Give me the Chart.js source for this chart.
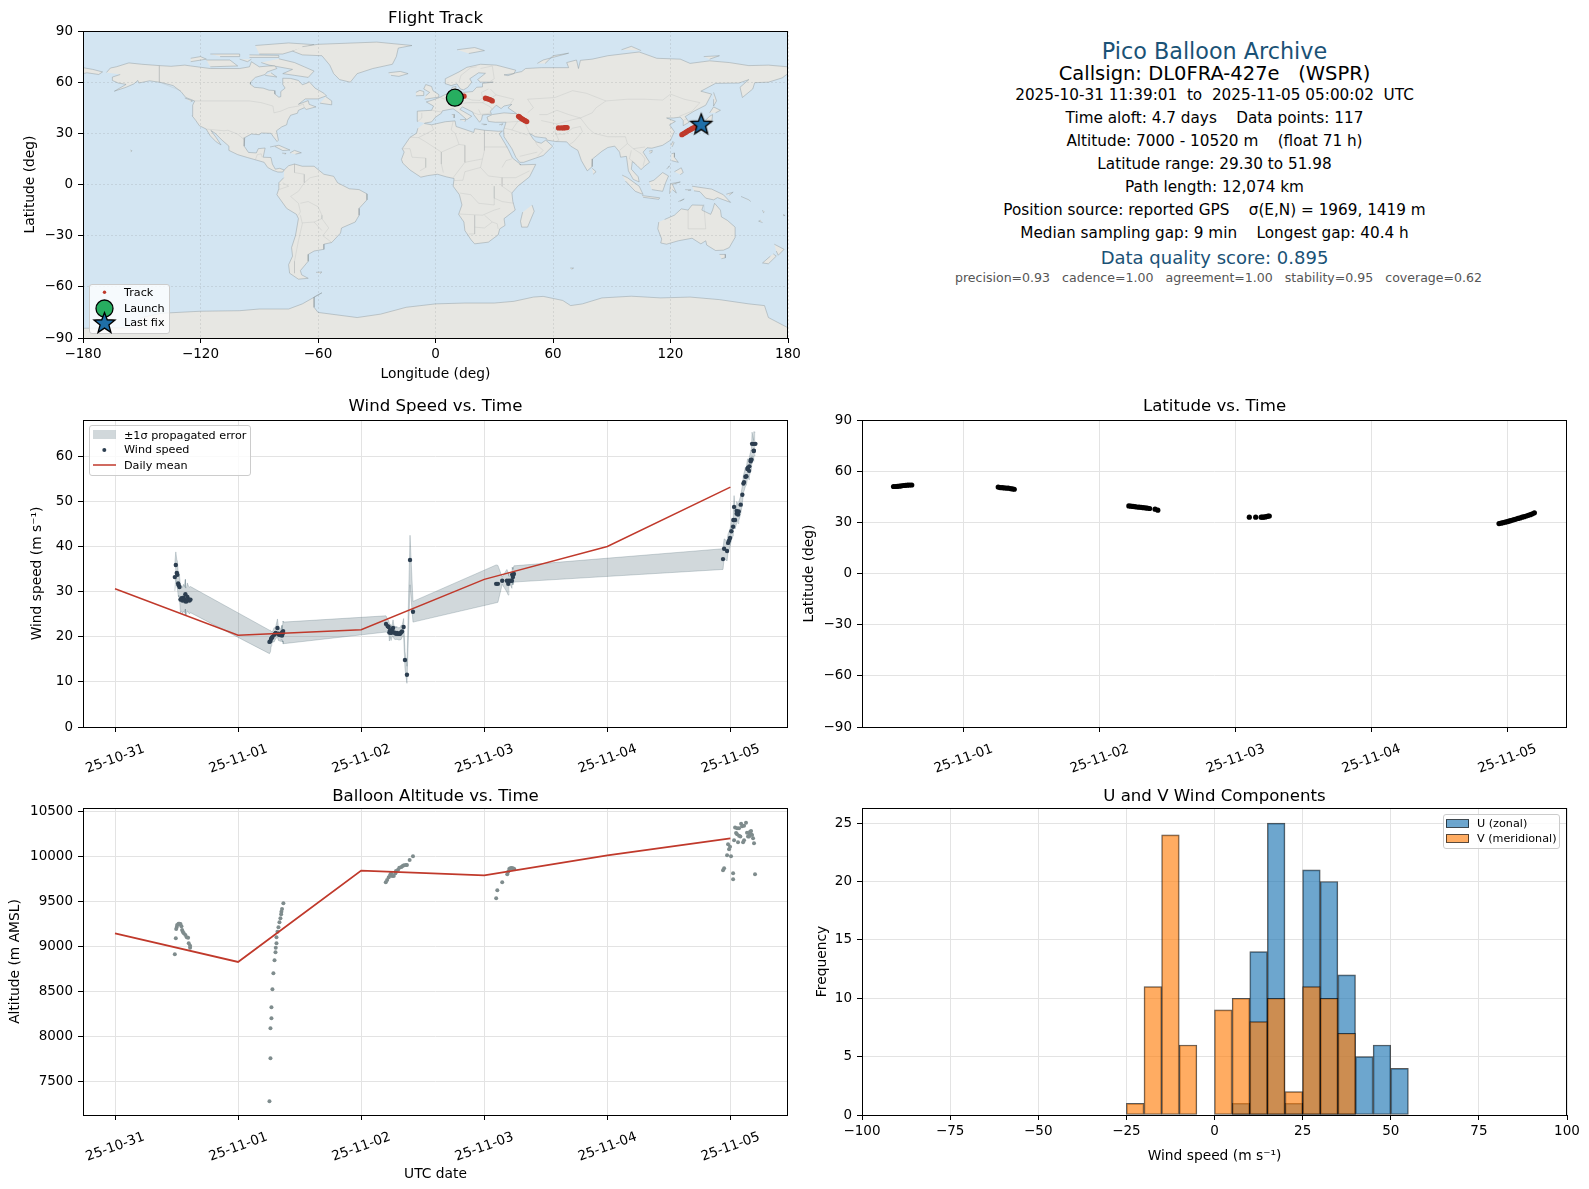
<!DOCTYPE html>
<html><head><meta charset="utf-8">
<style>
html,body{margin:0;padding:0;background:#fff;width:1589px;height:1189px;overflow:hidden;font-family:"DejaVu Sans",sans-serif}
canvas{position:absolute}
.t{position:absolute;left:1214.5px;transform:translate(-50%,-50%);white-space:pre;color:#000;line-height:1}
</style>
<script src="https://cdn.jsdelivr.net/npm/chart.js@4/dist/chart.umd.min.js"></script>
</head><body>
<script>
/* ---------- tick labels ---------- */
const dateLabels = {0:'25-10-31',1:'25-11-01',2:'25-11-02',3:'25-11-03',4:'25-11-04',5:'25-11-05'};
const dailyDays = [0,1,2,3,4,5];
const altTicks = [7500,8000,8500,9000,9500,10000,10500];

/* ---------- wind speed ---------- */
const windTimes = [.486,.494,.502,.507,.513,.518,.524,.532,.540,.548,.556,.564,.572,.572,.580,.588,.596,.605,.613,
1.255,1.263,1.269,1.274,1.279,1.293,1.301,1.306,1.320,1.328,1.333,1.344,1.349,1.357,1.357,1.366,1.366,
2.202,2.216,2.224,2.229,2.235,2.243,2.251,2.259,2.267,2.275,2.283,2.291,2.299,2.308,2.316,2.324,2.332,2.345,2.356,2.372,2.397,2.421,
3.097,3.111,3.146,3.184,3.195,3.200,3.214,3.225,3.227,3.233,3.241,
4.940,4.949,4.973,4.981,4.989,4.997,5.008,5.022,5.024,5.030,5.038,5.051,5.051,5.059,5.062,5.068,5.084,5.097,5.106,5.111,5.122,5.130,5.138,5.143,5.152,5.154,5.165,5.165,5.171,5.176,5.190,5.190,5.190,5.203];
const windSpeed = [33.3,36,34.2,33.8,31.9,31.5,31.1,28.3,28.6,28.1,28.7,28.3,29.5,27.9,27.9,28.9,28.4,28.1,28.3,
18.9,19.1,19.6,19.8,20,20.5,20.7,20.9,22,20.7,20.5,20.4,20.7,21,20.3,21.3,20.9,
22.9,22.4,22.2,21,21.5,20.9,21.3,22,21,20.9,20.7,20.9,20.7,20.7,20.7,21,21.2,22.2,14.9,11.6,37.1,25.6,
31.8,31.8,32.5,32.5,31.8,32.5,32.5,32.5,33.9,33.3,34,
37.3,39.6,39.1,40.9,41.4,42,43.5,44.5,46,48.9,46,47.4,48,47.6,47.2,47.9,49.4,51.6,54.1,54.4,55.6,55.7,57.3,57.6,56.9,57.9,59,59.3,59.4,62.9,61.3,61.4,62.9,62.9];
const windSigma = [3.1,2.9,3,3,2.6,2.6,2.6,2.9,2.8,2.9,3,2.9,3.3,3,3,3.1,2.9,3,2.9,
2.6,2.4,1.6,1.3,1.1,1.6,1.2,1.4,2,1.5,1.3,1.4,1.2,1.6,1.4,2.2,2.4,
1.8,1.5,1.4,1.9,1.4,1.7,1.3,1.8,1.4,1.5,1.3,1.4,1.3,1.4,1.3,1.6,1.3,1.9,1.9,1.9,5.5,2.3,
4.2,4.1,.8,2.5,2.5,1,1,1.7,1.6,1.7,1.8,
2.3,2.2,2.2,2,2,2,1.9,2,2,2.5,2,2.1,2.1,2,2,2.1,2,2,1.9,2,2.1,2,2.1,2,2,2.1,2.2,2.2,2.2,2.6,2.3,2.3,2.7,2.6];
const windDaily = [30.7,20.4,21.6,32.8,40.1,53.3];

/* ---------- altitude ---------- */
const altTimes = [.486,.494,.497,.502,.505,.516,.524,.532,.540,.545,.551,.559,.572,.583,.594,.599,.610,.610,
1.255,1.263,1.263,1.271,1.271,1.279,1.287,1.296,1.304,1.306,1.312,1.312,1.320,1.328,1.336,1.344,1.350,1.352,1.357,1.368,
2.200,2.211,2.224,2.235,2.243,2.251,2.265,2.278,2.283,2.300,2.310,2.327,2.337,2.348,2.364,2.372,2.394,2.421,
3.097,3.106,3.146,3.187,3.195,3.203,3.211,3.222,3.233,3.244,
4.940,4.949,4.973,4.981,4.989,4.997,5.005,5.022,5.022,5.030,5.038,5.046,5.054,5.054,5.062,5.070,5.070,5.081,5.087,5.095,5.103,5.111,5.111,5.127,5.135,5.143,5.152,5.152,5.160,5.168,5.168,5.176,5.184,5.192,5.200];
const altValues = [8911,9089,9193,9215,9237,9252,9252,9248,9222,9181,9163,9144,9126,9100,9096,9033,9007,8985,
7278,7756,8089,8200,8322,8522,8700,8844,8933,8985,9033,9100,9163,9211,9267,9311,9356,9385,9415,9478,
9711,9737,9767,9793,9811,9781,9781,9811,9837,9852,9874,9881,9893,9900,9904,9904,9959,10000,
9533,9622,9711,9800,9830,9859,9867,9870,9867,9859,
9844,9867,10011,10133,10078,10107,10000,9744,9811,10178,10319,10259,10311,10244,10156,10311,10230,10219,10363,10333,10156,10178,10341,10374,10263,10219,10256,10219,10274,10281,10244,10237,10200,10144,9800];
const altDaily = [9144,8826,9841,9789,10011,10200];

/* ---------- latitude ---------- */
const latTimes = [.486,.50,.515,.53,.545,.56,.575,.59,.605,.62,
1.256,1.27,1.285,1.30,1.315,1.33,1.345,1.36,1.374,
2.217,2.232,2.247,2.262,2.277,2.292,2.307,2.322,2.337,2.352,2.37,2.41,2.43,
3.103,3.15,3.19,3.20,3.21,3.22,3.23,3.24,3.25,
4.94,4.955,4.97,4.985,5.0,5.012,5.025,5.04,5.052,5.065,5.08,5.095,5.11,5.125,5.14,5.155,5.17,5.185,5.2];
const latValues = [51,51,51.1,51.2,51.4,51.6,51.7,51.8,51.9,51.9,
50.7,50.4,50.3,50.2,50.1,50,49.8,49.6,49.4,
39.6,39.5,39.3,39.2,39,38.9,38.8,38.6,38.5,38.3,38.1,37.7,37.1,
33,33,33,33,33.1,33.2,33.4,33.6,33.7,
29.3,29.5,29.8,30.1,30.4,30.7,31,31.3,31.6,31.9,32.3,32.6,33,33.3,33.7,34.1,34.5,35,35.6];

/* ---------- wind component histogram (bin centres, counts) ---------- */
const binCentres = [-22.5,-17.5,-12.5,-7.5,-2.5,2.5,7.5,12.5,17.5,22.5,27.5,32.5,37.5,42.5,47.5,52.5];
const uCounts = [0,0,0,0,0,0,1,14,25,1,21,20,12,5,6,4];
const vCounts = [1,11,24,6,0,9,10,8,10,2,11,10,7,0,0,0];

/* ---------- flight track ---------- */
const trackLon = [10.5,11.5,12.5,13.5,14.6,25.5,26.2,27,27.8,28.5,29,42.4,42.9,43.4,44,44.6,45.2,45.8,46.6,62.8,64.2,65.4,66,66.6,67.2,
125.8,126.5,127.2,127.9,128.6,129.3,130,130.7,131.4,132.1,132.8,133.5,134.4];
const trackLat = [50.8,51,51.3,51.6,51.8,50.6,50.4,50.1,49.8,49.4,49,40,39.6,39.1,38.6,38.2,37.8,37.4,36.9,33.2,33.2,33.2,33.3,33.4,33.4,
29.2,29.7,30.2,30.7,31.2,31.7,32.1,32.6,33,33.4,33.8,34.2,34.6];
const launchPoint = {x:9.9,y:50.9};
const lastFixPoint = {x:135.7,y:35.6};

/* ---------- base map outlines (lon,lat) ---------- */
const northAmerica = [[-168,65.7],[-166,68.3],[-163,69],[-156.6,71.3],[-150,70.5],[-141,69.7],[-135,69.3],[-128,70],[-125,69.5],[-115,68],[-108,68],[-100,68],[-95,69],[-94,72],[-90,69],[-85,69.5],[-82,69.5],[-81,68],[-86,66],[-87,64.5],[-92,62.8],[-94.5,60],[-94.5,58.8],[-92.5,57],[-88,56.5],[-85,55.3],[-82.3,55.1],[-82,53],[-80,51.2],[-79,51.5],[-79,54.5],[-76.8,56.5],[-78,58.7],[-78,62.3],[-74,62.2],[-70,61],[-68,58.5],[-65.5,59.5],[-64.5,60.3],[-61.5,56.5],[-57,53.5],[-55.7,52],[-60,50.2],[-66.5,50.2],[-70,47],[-65,49.2],[-64.5,47],[-61,45.5],[-66,44],[-67,45],[-70,43.5],[-70.5,41.8],[-74,40.6],[-75.5,37.5],[-76,35],[-78.5,33.8],[-81.2,31.5],[-80.2,26],[-80.9,25.2],[-82.8,28],[-84,30],[-89,30.2],[-90,29.2],[-94,29.6],[-97.4,27.5],[-97.7,22.5],[-95.5,18.8],[-91.5,18.5],[-90.5,21],[-87,21.4],[-88,16],[-84,15.8],[-83.3,12],[-81.8,9],[-79.5,9.5],[-77.3,8.5],[-78,7.3],[-80.5,7.3],[-83,8.3],[-85.7,10],[-87.5,13],[-92,14.5],[-96,15.8],[-101,17.5],[-105.5,20],[-105.5,22.5],[-109,26],[-112.5,30],[-114.7,31.7],[-112,27.5],[-109.5,23.2],[-112,25],[-115,28.5],[-117.1,32.5],[-120.6,34.5],[-122.5,37.7],[-124.3,40.3],[-124,46.5],[-123,49],[-127.5,51],[-130,54.5],[-134,58],[-140,59.8],[-146,60.8],[-151.5,59.5],[-152,61],[-154,59],[-158,57],[-164,54.7],[-158,58.7],[-162,59.5],[-165,61],[-165,63],[-161,64.5]];
const greenland = [[-73,78.2],[-68,76],[-58,75.5],[-54,70],[-52,65],[-49,61.5],[-43.5,60],[-40,65],[-32,68],[-22,70.5],[-20,75],[-19,80],[-12,81.5],[-30,83.5],[-60,82.2],[-68,80.8]];
const southAmerica = [[-77.3,8.5],[-75,11],[-72,12],[-68,10.7],[-62,10.7],[-57,6],[-52,4.8],[-50,1],[-44,-2.5],[-39,-3],[-35,-5.5],[-35,-9],[-39,-14],[-39,-18],[-41,-22],[-48,-25.5],[-48.5,-28.5],[-53,-34],[-57,-35],[-57,-38],[-62,-39],[-65,-41],[-65,-45],[-69,-50.5],[-68.3,-53],[-65,-55],[-70,-55.5],[-74.5,-52],[-75,-47],[-73,-42],[-73.5,-37],[-71.5,-30],[-70,-20],[-71,-17.5],[-76,-14],[-81,-6],[-80,-2.5],[-80,1],[-77.5,4]];
const africa = [[-5.8,35.8],[-2,35],[5,36.8],[10,37.3],[10.5,34],[15,32.3],[19.5,30.5],[20,32.7],[25,31.8],[32,31.2],[34.2,31.3],[32.5,29.8],[35.5,24],[37.2,20.5],[39.3,15.5],[43.2,12],[43.3,11.5],[51.2,11.8],[48,4.5],[42,-1],[39,-5],[39.5,-10],[40.7,-15],[35,-20],[35.5,-24],[32.8,-26],[32,-29.5],[27,-33.8],[20,-34.8],[18.2,-32.5],[15,-27],[14.5,-22],[11.8,-17.5],[13.5,-12],[12.2,-6],[9,-1],[9.5,3.5],[5.5,4.5],[1,6],[-4,5.2],[-7.5,4.3],[-13,8.5],[-16.7,12.5],[-17.4,14.7],[-16,19],[-17,21],[-13,27.7],[-9.7,30],[-9,33]];
const eurasia = [[-9,37],[-9.3,43],[-2,43.5],[-1,46],[-4.7,48.4],[-1.5,49.5],[2,51],[4.5,52.5],[8,54],[8.5,57],[10.5,57.5],[10,54.5],[14,54],[19,54.5],[21,57],[24,57.2],[24,59.3],[29.5,60],[23,60],[21.5,61.5],[25.5,65.2],[22,65.5],[17.5,62],[18.5,60],[16.5,57],[14.3,55.5],[12.7,56],[11,59],[8,58],[5.3,59],[5,62],[12,66],[16,68.7],[23,70.5],[31,70],[41,67],[40,65],[35,64.3],[37,63.8],[41,65.5],[44,66.2],[46,68],[54,68.5],[68,68.5],[67,71.5],[72,73],[73,68],[74,72.8],[80,73.5],[88,75.5],[104,77.7],[113,74],[125,73.5],[130,71],[140,72.5],[150,71.5],[160,69.7],[170,70],[180,69],[180,65],[177,62.5],[170,60],[163,59.7],[162,56],[156.7,51],[155.5,57],[160,61.5],[155,59.5],[143,59.3],[135.5,54.7],[141,53],[138,46.5],[132,43],[127.5,39.8],[129.5,36.5],[126.5,34.5],[126.5,37.5],[125,39.5],[121.5,39],[118,39],[122.5,37],[119.5,35],[122,31],[120,26],[116,23],[110.5,21.3],[108,21.5],[106,19],[109.3,13],[106,10],[105,8.7],[103,11],[100.5,13.5],[100,9],[103.5,4.5],[104,1.5],[101,3],[98.5,8],[97.5,16.5],[94.5,16],[94,19],[91.5,22.5],[88,21.7],[85,19.5],[80.2,15],[80,10.5],[77.5,8],[74.5,14],[72.7,20],[69,22.5],[67,25],[61.5,25.2],[57,26],[56.5,27.2],[51,28],[48,30],[50,26.5],[51.5,25],[54,24.2],[56.3,26],[59.8,22.5],[55,17],[45,13],[43,13],[41,16],[39,21],[35,28],[34.8,32],[36,36.5],[30.5,36.5],[27,37],[26.3,39.5],[29,41],[35,42],[41.5,41.5],[37,45],[39,47],[35,46],[33.5,44.5],[31,46.5],[28,43],[28.5,41.2],[24,40.8],[23.5,38],[22.5,36.5],[19.5,41],[19,42.5],[13.7,45.5],[12.5,44],[18.5,40],[16,38],[12,42],[9,44.4],[3.5,43.2],[3,41.8],[0,39.5],[-2,36.7],[-5.5,36]];
const chukotka = [[-180,68.5],[-175,67.5],[-170,66],[-172,64.5],[-178,65.5],[-180,65]];
const australia = [[114,-22],[113.5,-26],[115.5,-32],[115,-34.3],[118,-35],[124,-33],[131,-31.5],[135.5,-34.8],[138,-33],[138.5,-35.5],[143,-38.7],[147,-38.5],[150,-37],[153,-31],[153,-25],[149,-21],[146,-19],[145.5,-15],[142.5,-11],[141.5,-15],[140.5,-17.5],[136,-15],[136.8,-12.2],[131,-12],[129,-15],[125.5,-14.3],[122,-18],[117,-20.5]];
const antarctica = [[-180,-90],[-180,-84.3],[-155,-84],[-150,-78],[-140,-75.5],[-120,-74.3],[-100,-74],[-90,-73],[-75,-73],[-68,-70],[-58,-63.5],[-62,-66],[-62,-72],[-60,-75],[-40,-78],[-28,-76],[-15,-72],[0,-70],[15,-69.5],[30,-69.5],[40,-68.5],[50,-66],[55,-65.6],[65,-68],[69,-71],[75,-70],[85,-66.5],[100,-65.5],[115,-66.5],[130,-66],[145,-67.5],[160,-70],[168,-71],[170,-78],[180,-84],[180,-90]];
const islands = [
[[-80,73.7],[-72,71.5],[-67,69],[-62,66.5],[-65,62.8],[-72,64],[-78,65],[-73,67.5],[-85,70],[-89,71.5]],
[[-117,73],[-105,73],[-101,69.5],[-115,69]],
[[-90,76.5],[-78,76.5],[-62,82],[-75,83],[-92,81.5]],
[[-125,72],[-117,73.5],[-120,75],[-125,74]],
[[-110,75],[-100,75],[-100,76.5],[-115,76.5]],
[[-95,74.5],[-80,74.5],[-80,75.7],[-95,76]],
[[-87,64],[-81,63],[-84,65.5]],
[[-100,73.5],[-96,72],[-94,73.5]],
[[-59,47.7],[-53,46.7],[-53,49],[-56,51.5]],
[[-84.5,22],[-80,23],[-74.3,20.2],[-78,19.9],[-82,22.3]],
[[-74.3,18.5],[-72,20],[-68.5,18.6],[-71.5,17.8]],
[[-78.3,18.4],[-76.3,18.2],[-77,17.8]],
[[-128,50.7],[-124,49],[-125,48.5]],
[[-24,65.5],[-18,66.3],[-14,65],[-18.7,63.4],[-22.7,64]],
[[-5.5,50],[1.3,51.2],[1.7,52.7],[-1.3,55],[-2,57.5],[-5,58.6],[-6,56],[-3,54],[-5,52]],
[[-10,52],[-6,52.2],[-6,54.5],[-8,55.2],[-10,54]],
[[11,79],[20,80.3],[25,78.5],[17,76.8]],
[[52,71],[55,73],[68,77],[60,75.5],[56,71]],
[[137,75],[145,75.5],[140,73.5]],
[[95,79],[100,81],[105,78.5]],
[[12.5,38],[15.5,38.2],[15,36.8]],
[[8.3,41],[9.7,41],[9.5,39]],
[[32.5,35],[34.5,35.6],[33.5,34.7]],
[[23.5,35.5],[26.2,35.2],[24.5,35]],
[[142,54],[143.5,49],[142,46],[142,50]],
[[140,42],[142,45.5],[145.5,43.5],[143,42]],
[[131,34],[136,35.7],[140,40],[141.5,41],[141,36],[137,34.5],[132,33]],
[[130,33.5],[131.8,33],[131,31],[130,32]],
[[120.2,23],[121.2,25.2],[121.8,24.5],[120.8,22]],
[[109,19.5],[110.7,20],[110.5,18.8],[109.3,18.3]],
[[80,9.5],[82,7.5],[80.5,6]],
[[120.5,18],[122,18.5],[122,16],[124,13],[120.5,14]],
[[122,7.5],[125.5,9.8],[126.5,7],[125,5.8]],
[[118,9],[119.5,11],[119,10]],
[[109,1.5],[111.5,2.5],[116,7],[119,5],[117.5,1],[116,-4],[110.5,-3]],
[[95.3,5.5],[98,4],[104,-1],[106,-5.8],[102,-4],[97,2]],
[[105.5,-6.5],[114.5,-7.8],[114,-8.7],[106,-7.5]],
[[119.5,-5.5],[120,0.5],[125,1.5],[121,0],[123,-5],[121,-3]],
[[131,-1],[141,-2.7],[147,-6],[150.7,-10.5],[144,-7.7],[142,-9],[138,-8],[135,-4.2],[132,-3.7]],
[[124,-10],[127,-8.5],[125,-9.8]],
[[127.5,-3],[130.5,-3.2],[129,-3.5]],
[[148.5,-5.7],[152,-4.5],[150,-6.3]],
[[156,-7],[160,-9],[161,-10]],
[[167,-15],[167.5,-16.5],[168,-16]],
[[177.5,-17.5],[178.5,-18.2],[177.5,-18.2]],
[[49.3,-12],[50.4,-15.7],[47,-25],[44,-25],[43.4,-21.5],[44.5,-16.2]],
[[145,-41],[148,-41],[148,-43],[146,-43.5]],
[[173,-35],[178,-38],[175,-41.5],[174,-39]],
[[172.5,-40.7],[174,-42],[170,-46.5],[167,-46],[171,-42]],
[[-61,-51.5],[-58,-51.3],[-59,-52.3]],
[[-155.8,20.2],[-155,19.8],[-155.6,19]],
[[68.8,-49],[70.5,-49],[69.5,-49.7]],
[[166,-21],[165,-21.5],[167,-22.3]]
];
const lakes = [
[[47,45],[52,47],[53,45],[51,44],[53,41],[54,37],[50,37.5],[49,41],[47.5,43]],
[[-92,46.8],[-85,47],[-85,48],[-89,48.5]],
[[-87.5,42],[-86,44],[-85,46],[-87.5,45.5]],
[[-84,46],[-80,45],[-82,43],[-83.5,44]],
[[-83,41.8],[-79,42.8],[-79,43],[-82,42.5]]
];
const borderLines = [
[[-123,49],[-95,49],[-89,48],[-83,46],[-82.5,42],[-79,43],[-75,45],[-70,46],[-67.5,47.2],[-67,45]],
[[-141,69.7],[-141,60],[-130,55]],
[[-117,32.5],[-108,31.5],[-106,31.8],[-101,29.5],[-97.4,26]],
[[-92,14.5],[-91,17.5],[-89,18],[-88.5,16]],
[[-72,12],[-72,7],[-67,6],[-67,1],[-70,-4],[-74,-7],[-70,-11],[-69,-16],[-70,-18]],
[[-60,5],[-64,4],[-67,1]],
[[-69,-11],[-65,-10],[-60,-13],[-58,-18],[-58,-20],[-54.5,-25.5],[-57.5,-30],[-53,-34]],
[[-69,-18],[-68,-23],[-70,-33],[-72,-45],[-72,-52]],
[[-62,-22],[-58,-20]],[[-68,-22.5],[-62,-22],[-58,-27]],
[[-80,-3],[-75,-1],[-78,1]],
[[-9,37],[-7,39],[-7,42]],[[-2,43.5],[3,42.5]],[[2.5,51],[6,49.5],[8,49],[7.5,47.5],[10,47.5],[13,47.5],[17,48],[22.5,48],[24,48],[28,45.5],[29,44]],
[[7,53.5],[6,50.5]],[[14.5,54],[15,51],[18.7,49.5],[22.7,49.3],[24,51],[23.5,54],[27,56]],[[8,55],[10,55]],
[[12,60],[13,64],[18,68.5],[21,69]],[[23,68],[29,69.5],[30,62],[28,60.5]],
[[28,56],[31,52.5],[40,50],[38,47]],[[24,48],[31,52.5]],
[[19.5,42],[22,41],[26,41.5],[28,42]],[[22,44],[23,41.5]],
[[47,42],[50,45],[47,50],[61,51],[70,55],[77,53.5],[87,49]],
[[87,49],[98,50],[107,50],[116,49.5],[120,53],[127,50],[135,48],[131,43]],
[[87,49],[82,45],[80,42],[74,39],[78,33],[81,30],[88,28],[92,28],[97,28],[98,24],[101,21],[107,22]],
[[98,24],[94,20]],[[101,21],[105,18],[107,15],[106,11]],[[100,20],[99,15],[102,12.5]],
[[74,39],[70,38],[62,35.5],[61,31],[63,26],[61.5,25.2]],[[74,34],[70,33],[66,29.5],[61,29.5]],[[74,34],[75,31],[70.5,25],[68.5,23.5]],
[[62,35.5],[54,37.5]],[[53,41],[57,41],[62,43.5],[68,41],[74,39]],[[44,39],[44.5,37],[46,35],[48,30]],[[36,36.5],[42,37],[44.5,37]],[[35,33],[39,32],[42,37]],[[39,32],[47,29]],[[52,16.5],[55,20],[52,23],[51,25]],[[43,16.5],[52,19]],[[127,38],[128.5,38.5]],[[124.5,40],[131,43]],
[[-8.7,27.5],[-1,32],[-2,35]],[[9,37],[8,32],[10,30],[12,23.5],[15,23]],[[25,31.8],[25,20],[24,15],[23,10]],[[25,22],[37,22]],[[-13,27.7],[-8.7,27.5],[-5,25],[3,19],[12,23.5]],[[-17,21],[-13,21],[-12,16],[-5,15.5],[-5,10],[-8,8]],[[3,19],[3,12],[4,7]],[[15,23],[15,13],[9,4]],[[24,15],[15,13]],[[23,10],[15,7.5],[14,2.5],[9.5,2.3]],[[34,10],[36,14],[39,15]],[[23,10],[27,5],[34,4],[41,4],[48,8]],[[34,4],[34,-1],[39,-5]],[[30,-1],[30,-8],[34,-10],[40,-11]],[[12.5,-5],[18,-6],[22,-11],[30,-12],[30,-8]],[[12,-17.3],[24,-18],[30,-15],[33,-14]],[[20,-18],[20,-29],[17,-29]],[[25,-18],[29,-22],[31.5,-23],[32,-26]],[[20,-25],[25,-25.5],[29,-22]],
[[137,-11.5],[138,-26],[129,-26],[129,-15]]
];

/* ---------- drawing helpers ---------- */
Chart.defaults.font.family = '"DejaVu Sans", sans-serif';
Chart.defaults.font.size = 13.5;
Chart.defaults.color = '#000';
Chart.defaults.animation = false;
Chart.defaults.plugins.legend.display = false;
Chart.defaults.plugins.tooltip.enabled = false;

const GRID = '#e3e3e3';
const AXIS_TITLE = {size: 13.8};
const minusText = v => String(v).replace('-', '\u2212');
const pts = (xs, ys) => xs.map((x, i) => ({x, y: ys[i]}));

function starPath(ctx, x, y, R) {
  ctx.beginPath();
  for (let i = 0; i < 10; i++) {
    const r = i % 2 ? R * 0.42 : R, a = -Math.PI / 2 + i * Math.PI / 5;
    ctx[i ? 'lineTo' : 'moveTo'](x + r * Math.cos(a), y + r * Math.sin(a));
  }
  ctx.closePath();
}
const starImage = (() => {
  const c = document.createElement('canvas'); c.width = c.height = 28;
  const g = c.getContext('2d');
  starPath(g, 14, 15, 11); g.fillStyle = '#1f6fa8'; g.fill();
  g.lineWidth = 1.3; g.strokeStyle = '#000'; g.stroke();
  return c;
})();

const framePlugin = {
  id: 'frame',
  afterDraw(chart) {
    const a = chart.chartArea, c = chart.ctx;
    c.save(); c.strokeStyle = '#000'; c.lineWidth = 1;
    c.strokeRect(a.left + .5, a.top + .5, a.right - a.left - 1, a.bottom - a.top); c.restore();
  }
};
function legendBox(c, x, y, w, h) {
  c.save();
  c.globalAlpha = .8; c.fillStyle = '#fff'; c.strokeStyle = '#ccc'; c.lineWidth = 1;
  c.beginPath(); c.roundRect(x + .5, y + .5, w, h, 2.5); c.fill(); c.globalAlpha = 1; c.stroke();
  c.restore();
}
function legendText(c, s, x, y) {
  c.save(); c.font = '11.2px "DejaVu Sans"'; c.fillStyle = '#000'; c.textBaseline = 'middle'; c.textAlign = 'left';
  c.fillText(s, x, y); c.restore();
}

function panel(plot, m, title, config) {
  const cv = document.createElement('canvas');
  const W = plot.r - plot.l + m.left + m.right, H = plot.b - plot.t + m.top + m.bottom;
  cv.width = W; cv.height = H;
  cv.style.cssText = `left:${plot.l - m.left}px;top:${plot.t - m.top}px;width:${W}px;height:${H}px`;
  document.body.appendChild(cv);
  const s = config.options.scales;
  s.x.afterFit = a => { a.height = m.bottom; a.paddingLeft = 0; a.paddingRight = 0; };
  s.y.afterFit = a => { a.width = m.left; a.paddingTop = 0; a.paddingBottom = 0; };
  config.options.responsive = false;
  config.options.maintainAspectRatio = false;
  config.options.layout = {padding: {left: 0, top: 0, bottom: 0, right: m.right}};
  config.options.plugins = Object.assign({
    title: {display: true, fullSize: false, text: title, color: '#000', font: {size: 16.6, weight: 'normal', lineHeight: 1.2},
            padding: {top: m.top - 19.92 - m.titleGap, bottom: m.titleGap}}
  }, config.options.plugins || {});
  config.plugins = [framePlugin].concat(config.plugins || []);
  return new Chart(cv, config);
}
const grid = extra => Object.assign({color: GRID, tickColor: '#000', tickLength: 5, lineWidth: 1, offset: false}, extra || {});
const noBorder = {display: false};
const dateAxis = (min, max, titleText, pad) => ({
  type: 'linear', min, max, offset: false,
  grid: grid(), border: noBorder,
  title: titleText ? {display: true, text: titleText, padding: {top: pad, bottom: 0}, color: '#000', font: AXIS_TITLE} : {display: false},
  ticks: {stepSize: 1, includeBounds: false, autoSkip: false, minRotation: 20, maxRotation: 20, labelOffset: 29, padding: 9,
          callback: v => dateLabels[v]}
});
const valueAxis = (min, max, step, titleText, pad, fixedTicks) => {
  const axis = {
    type: 'linear', min, max,
    grid: grid(), border: noBorder,
    title: {display: true, text: titleText, padding: {top: pad, bottom: 0}, color: '#000', font: AXIS_TITLE},
    ticks: {stepSize: step, includeBounds: false, padding: 5, autoSkip: false, callback: v => minusText(v)}
  };
  if (fixedTicks) axis.afterBuildTicks = a => { a.ticks = fixedTicks.map(value => ({value})); };
  return axis;
};

/* ---------- 1. flight track map ---------- */
const landSet = [northAmerica, greenland, southAmerica, africa, eurasia, chukotka, australia, antarctica, ...islands];
const polygonDataset = (p, color, edge) => ({
  type: 'scatter', data: p.map(q => ({x: q[0], y: q[1]})), showLine: true, fill: 'shape', tension: 0,
  backgroundColor: color, borderColor: edge, borderWidth: 1, pointRadius: 0, order: 20
});
const OCEAN = '#d3e5f2', LAND = '#e7e7e3', COAST = 'rgba(140,150,155,.45)';
const borderData = [];
borderLines.forEach(l => { l.forEach(q => borderData.push({x: q[0], y: q[1]})); borderData.push({x: null, y: null}); });
const mapGrid = grid({color: 'rgba(120,125,130,.18)', z: 1});
const mapBorder = {display: false, dash: [2, 2]};
panel({l: 83, t: 31, r: 788, b: 338}, {left: 83, right: 30, top: 31, bottom: 45, titleGap: 2}, 'Flight Track', {
  type: 'scatter',
  data: {datasets: [
    ...landSet.map(p => polygonDataset(p, LAND, COAST)),
    ...lakes.map(p => polygonDataset(p, OCEAN, COAST)),
    {data: borderData, showLine: true, spanGaps: false, borderColor: 'rgba(170,175,175,.25)', borderWidth: 1, pointRadius: 0, order: 15},
    {data: pts(trackLon, trackLat), pointRadius: 2.6, backgroundColor: '#c0392b', borderWidth: 0, order: 3},
    {data: [launchPoint], pointRadius: 8.5, backgroundColor: '#27ae60', borderColor: '#000', borderWidth: 1.3, order: 2},
    {data: [lastFixPoint], pointStyle: starImage, order: 1}
  ]},
  options: {scales: {
    x: {type: 'linear', min: -180, max: 180, grid: mapGrid, border: mapBorder,
        title: {display: true, text: 'Longitude (deg)', padding: {top: 0, bottom: 0}, color: '#000', font: AXIS_TITLE},
        ticks: {stepSize: 60, padding: 3, maxRotation: 0, callback: v => minusText(v)}},
    y: {type: 'linear', min: -90, max: 90, grid: mapGrid, border: mapBorder,
        title: {display: true, text: 'Latitude (deg)', padding: {top: 22, bottom: 0}, color: '#000', font: AXIS_TITLE},
        ticks: {stepSize: 30, padding: 5, callback: v => minusText(v)}}
  }},
  plugins: [{id: 'ocean', beforeDatasetsDraw(ch) {
      const a = ch.chartArea, c = ch.ctx; c.save(); c.fillStyle = OCEAN; c.fillRect(a.left, a.top, a.right - a.left, a.bottom - a.top); c.restore();
    }},
    {id: 'mapLegend', afterDraw(ch) {
      const c = ch.ctx;
      legendBox(c, 89, 284, 80, 49);
      c.save(); c.fillStyle = '#c0392b'; c.beginPath(); c.arc(104.5, 292.3, 1.7, 0, 7); c.fill();
      c.fillStyle = '#27ae60'; c.strokeStyle = '#000'; c.lineWidth = 1.3; c.beginPath(); c.arc(104.5, 308.5, 8.5, 0, 7); c.fill(); c.stroke();
      starPath(c, 104.5, 323.5, 11); c.fillStyle = '#1f6fa8'; c.fill(); c.stroke(); c.restore();
      legendText(c, 'Track', 124, 293); legendText(c, 'Launch', 124, 309); legendText(c, 'Last fix', 124, 323.5);
    }}]
});

/* ---------- 2. wind speed ---------- */
const BAND = 'rgba(90,115,125,.28)';
panel({l: 83, t: 420, r: 788, b: 727}, {left: 83, right: 30, top: 32, bottom: 60, titleGap: 3}, 'Wind Speed vs. Time', {
  type: 'scatter',
  data: {datasets: [
    {data: pts(windTimes, windSpeed.map((v, i) => v + windSigma[i])), showLine: true, pointRadius: 0, borderColor: BAND, borderWidth: 1, backgroundColor: BAND, fill: '+1', tension: 0, order: 5},
    {data: pts(windTimes, windSpeed.map((v, i) => v - windSigma[i])), showLine: true, pointRadius: 0, borderColor: BAND, borderWidth: 1, fill: false, tension: 0, order: 5},
    {data: pts(windTimes, windSpeed), pointRadius: 2.2, backgroundColor: '#2c3e50', borderWidth: 0, order: 3},
    {data: pts(dailyDays, windDaily), showLine: true, pointRadius: 0, borderColor: '#c0392b', borderWidth: 1.5, tension: 0, order: 1}
  ]},
  options: {scales: {x: dateAxis(-0.26, 5.468), y: valueAxis(0, 68.2, 10, 'Wind speed (m s\u207B\u00B9)', 29)}},
  plugins: [{id: 'windLegend', afterDraw(ch) {
    const c = ch.ctx, oy = ch.chartArea.top - 420;
    legendBox(c, 89, oy + 425, 161, 50);
    c.save(); c.fillStyle = BAND; c.fillRect(93, oy + 430, 23, 9);
    c.fillStyle = '#2c3e50'; c.beginPath(); c.arc(104.3, oy + 450, 2, 0, 7); c.fill();
    c.strokeStyle = '#c0392b'; c.lineWidth = 1.5; c.beginPath(); c.moveTo(93, oy + 465); c.lineTo(116, oy + 465); c.stroke(); c.restore();
    legendText(c, '\u00B11\u03C3 propagated error', 124, oy + 436); legendText(c, 'Wind speed', 124, oy + 450.5); legendText(c, 'Daily mean', 124, oy + 466.5);
  }}]
});

/* ---------- 3. latitude ---------- */
panel({l: 862, t: 420, r: 1567, b: 727}, {left: 75, right: 20, top: 32, bottom: 60, titleGap: 3}, 'Latitude vs. Time', {
  type: 'scatter',
  data: {datasets: [{data: pts(latTimes, latValues), pointRadius: 2.6, backgroundColor: '#000', borderWidth: 0}]},
  options: {scales: {x: dateAxis(0.254, 5.44), y: valueAxis(-90, 90, 30, 'Latitude (deg)', 14)}}
});

/* ---------- 4. altitude ---------- */
panel({l: 83, t: 808, r: 788, b: 1115}, {left: 83, right: 30, top: 32, bottom: 68, titleGap: 1.5}, 'Balloon Altitude vs. Time', {
  type: 'scatter',
  data: {datasets: [
    {data: pts(altTimes, altValues), pointRadius: 2, backgroundColor: '#7f8c8d', borderWidth: 0, order: 3},
    {data: pts(dailyDays, altDaily), showLine: true, pointRadius: 0, borderColor: '#c0392b', borderWidth: 1.8, tension: 0, order: 1}
  ]},
  options: {scales: {x: dateAxis(-0.26, 5.468, 'UTC date', 0), y: valueAxis(7126, 10537, 500, 'Altitude (m AMSL)', 7, altTicks)}}
});

/* ---------- 5. wind component histogram ---------- */
panel({l: 862, t: 808, r: 1567, b: 1115}, {left: 75, right: 20, top: 32, bottom: 50, titleGap: 1.5}, 'U and V Wind Components', {
  type: 'bar',
  data: {datasets: [
    {label: 'U (zonal)', data: pts(binCentres, uCounts), backgroundColor: 'rgba(31,119,180,.65)', borderColor: 'rgba(0,0,0,.65)', borderWidth: 1, borderSkipped: false, barPercentage: 1, categoryPercentage: 1, grouped: false, order: 2},
    {label: 'V (meridional)', data: pts(binCentres, vCounts), backgroundColor: 'rgba(255,127,14,.65)', borderColor: 'rgba(0,0,0,.65)', borderWidth: 1, borderSkipped: false, barPercentage: 1, categoryPercentage: 1, grouped: false, order: 1}
  ]},
  options: {scales: {
    x: {type: 'linear', min: -100, max: 100, grid: grid(), border: noBorder, offset: false,
        title: {display: true, text: 'Wind speed (m s\u207B\u00B9)', padding: {top: 0, bottom: 0}, color: '#000', font: AXIS_TITLE},
        ticks: {stepSize: 25, padding: 3, maxRotation: 0, callback: v => minusText(v)}},
    y: valueAxis(0, 26.3, 5, 'Frequency', 27)
  }},
  plugins: [{id: 'histLegend', afterDraw(ch) {
    const c = ch.ctx, oy = ch.chartArea.top - 808, ox = -(862 - 75);
    legendBox(c, ox + 1443, oy + 814, 116, 34);
    c.save(); c.lineWidth = 1; c.strokeStyle = 'rgba(0,0,0,.65)';
    c.fillStyle = 'rgba(31,119,180,.65)'; c.fillRect(ox + 1446, oy + 819.5, 23, 8); c.strokeRect(ox + 1446.5, oy + 819.5, 22, 8);
    c.fillStyle = 'rgba(255,127,14,.65)'; c.fillRect(ox + 1446, oy + 834.5, 23, 8); c.strokeRect(ox + 1446.5, oy + 834.5, 22, 8);
    c.restore();
    legendText(c, 'U (zonal)', ox + 1477, oy + 824); legendText(c, 'V (meridional)', ox + 1477, oy + 839);
  }}]
});

/* ---------- 6. summary text ---------- */
const infoLines = [
  ['Pico Balloon Archive', 50.5, 22.3, '#1a5276', 0],
  ['Callsign: DL0FRA-427e   (WSPR)', 74, 19.5, '#000', 0],
  ['2025-10-31 11:39:01  to  2025-11-05 05:00:02  UTC', 96, 15.25, '#000', 0],
  ['Time aloft: 4.7 days    Data points: 117', 119.3, 15.25, '#000', 0],
  ['Altitude: 7000 - 10520 m    (float 71 h)', 142.3, 15.25, '#000', 0],
  ['Latitude range: 29.30 to 51.98', 165.3, 15.25, '#000', 0],
  ['Path length: 12,074 km', 188.3, 15.25, '#000', 0],
  ['Position source: reported GPS    \u03C3(E,N) = 1969, 1419 m', 211.3, 15.25, '#000', 0],
  ['Median sampling gap: 9 min    Longest gap: 40.4 h', 234.3, 15.25, '#000', 0],
  ['Data quality score: 0.895', 258, 18, '#1a5276', 0],
  ['precision=0.93   cadence=1.00   agreement=1.00   stability=0.95   coverage=0.62', 278, 12.57, '#555', 4]
];
infoLines.forEach(([text, y, size, color, dx]) => {
  const d = document.createElement('div'); d.className = 't'; d.textContent = text;
  d.style.top = y + 'px'; d.style.fontSize = size + 'px'; d.style.color = color;
  d.style.marginLeft = dx + 'px';
  document.body.appendChild(d);
});
</script>
</body></html>
